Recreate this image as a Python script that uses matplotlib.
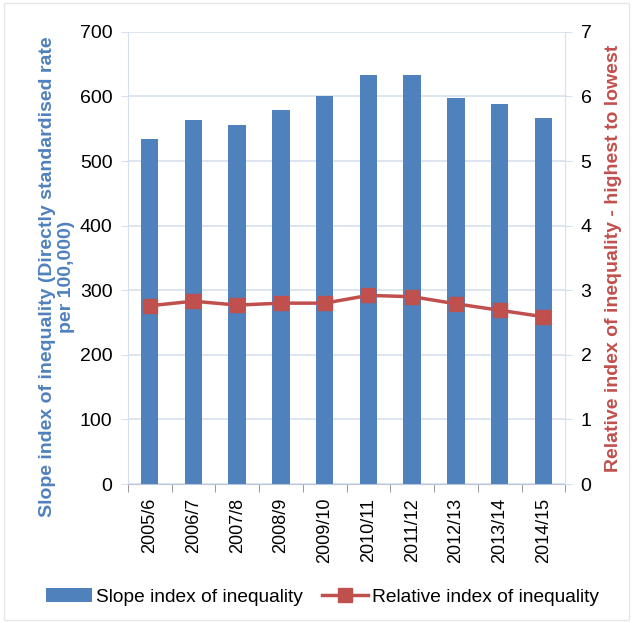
import numpy as np
import matplotlib.pyplot as plt
from matplotlib.patches import Rectangle

plt.rcParams['font.family'] = ['Liberation Sans', 'DejaVu Sans']

years = ["2005/6", "2006/7", "2007/8", "2008/9", "2009/10",
         "2010/11", "2011/12", "2012/13", "2013/14", "2014/15"]
sii = [534, 563, 555, 579, 601, 633, 633, 597, 588, 566]
rii = [2.76, 2.83, 2.77, 2.80, 2.80, 2.92, 2.90, 2.79, 2.69, 2.59]

blue = "#4F81BD"
red = "#C0504D"
grid_c = "#D6E0EE"

fig = plt.figure(figsize=(6.33, 6.23), dpi=100)
ax = fig.add_axes([0.202, 0.223, 0.691, 0.726])
ax2 = ax.twinx()

x = np.arange(len(years))
bars = ax.bar(x, sii, width=0.4, color=blue, zorder=2,
              label="Slope index of inequality")
line, = ax2.plot(x, rii, color=red, linewidth=2.5, marker='s', markersize=10.5,
                 label="Relative index of inequality")

ax.set_xlim(-0.5, len(years) - 0.5)
ax.set_ylim(0, 700)
ax.set_yticks(range(0, 701, 100))
ax2.set_ylim(0, 7)
ax2.set_yticks(range(0, 8))

ax.yaxis.grid(True, color=grid_c, linewidth=1.2, zorder=0)
ax.set_axisbelow(True)

for a in (ax, ax2):
    for s in a.spines.values():
        s.set_visible(False)
ax.spines['left'].set_visible(True)
ax.spines['left'].set_color(grid_c)
ax2.spines['right'].set_visible(True)
ax2.spines['right'].set_color(grid_c)
ax.spines['bottom'].set_visible(True)
ax.spines['bottom'].set_color("#B8C7DD")

ax.set_xticks(x)
ax.set_xticklabels(years, rotation=90, fontsize=13)
ax.tick_params(axis='x', which='major', length=0, pad=10)
ax.set_xticks(np.arange(-0.5, len(years), 1), minor=True)
ax.tick_params(axis='x', which='minor', length=6, color="#888888")
ax.tick_params(axis='y', length=5, color=grid_c, labelsize=14, pad=6)
ax2.tick_params(axis='y', length=5, color=grid_c, labelsize=14, pad=6)

ax.set_ylabel("Slope index of inequality (Directly standardised rate\nper 100,000)",
              color=blue, fontsize=14, fontweight='bold',
              linespacing=1.15)
ax.yaxis.set_label_coords(-0.12, 0.458)
ax2.set_ylabel("Relative index of inequality - highest to lowest",
               color=red, fontsize=14, fontweight='bold', labelpad=10)

fig.legend([bars, line], ["Slope index of inequality", "Relative index of inequality"],
           loc='lower center', bbox_to_anchor=(0.51, 0.0), ncol=2, frameon=False,
           fontsize=13.8, handlelength=2.4, columnspacing=1.0, handletextpad=0.2)

fig.patches.append(Rectangle((0.006, 0.005), 0.988, 0.99, transform=fig.transFigure,
                             fill=False, edgecolor="#E6E6E6", linewidth=1))

fig.savefig("out.png", dpi=100)
